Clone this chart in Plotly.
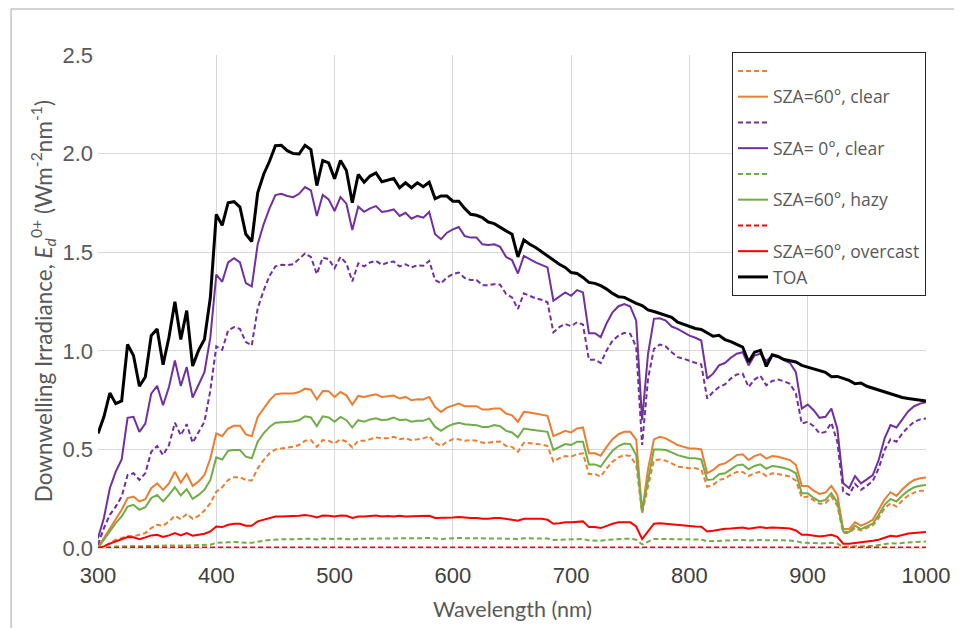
import plotly.graph_objects as go

wavelength = list(range(300, 1001, 5))

toa = [
    0.581, 0.665, 0.786, 0.732, 0.746, 1.032, 0.976, 0.820, 0.867, 1.077,
    1.111, 0.929, 1.069, 1.249, 1.057, 1.204, 0.923, 1.002, 1.059, 1.271,
    1.692, 1.636, 1.751, 1.756, 1.729, 1.591, 1.554, 1.801, 1.894, 1.961,
    2.040, 2.042, 2.015, 2.000, 1.998, 2.042, 2.020, 1.838, 1.965, 1.953,
    1.872, 1.965, 1.914, 1.751, 1.894, 1.855, 1.886, 1.902, 1.857, 1.865,
    1.874, 1.827, 1.852, 1.827, 1.852, 1.832, 1.855, 1.771, 1.785, 1.785,
    1.759, 1.759, 1.722, 1.692, 1.687, 1.675, 1.653, 1.645, 1.625, 1.608,
    1.591, 1.476, 1.562, 1.540, 1.524, 1.502, 1.481, 1.460, 1.439, 1.423,
    1.397, 1.392, 1.372, 1.347, 1.342, 1.330, 1.313, 1.291, 1.274, 1.271,
    1.254, 1.241, 1.229, 1.207, 1.199, 1.190, 1.182, 1.170, 1.145, 1.135,
    1.123, 1.113, 1.108, 1.093, 1.074, 1.079, 1.057, 1.047, 1.032, 1.019,
    0.943, 0.993, 1.002, 0.921, 0.980, 0.971, 0.956, 0.948, 0.943, 0.926,
    0.918, 0.907, 0.901, 0.891, 0.869, 0.870, 0.860, 0.850, 0.833, 0.837,
    0.820, 0.810, 0.800, 0.790, 0.779, 0.769, 0.763, 0.758, 0.753, 0.749, 0.746,
]

sza0_clear = [
    0.050, 0.152, 0.303, 0.387, 0.449, 0.660, 0.665, 0.589, 0.631, 0.783,
    0.822, 0.724, 0.816, 0.951, 0.822, 0.918, 0.763, 0.828, 0.892, 1.069,
    1.386, 1.350, 1.448, 1.470, 1.448, 1.343, 1.327, 1.540, 1.641, 1.722,
    1.790, 1.796, 1.785, 1.779, 1.796, 1.830, 1.813, 1.684, 1.790, 1.768,
    1.709, 1.779, 1.746, 1.613, 1.731, 1.705, 1.722, 1.734, 1.704, 1.709,
    1.717, 1.684, 1.700, 1.670, 1.684, 1.675, 1.704, 1.591, 1.566, 1.599,
    1.616, 1.628, 1.582, 1.574, 1.574, 1.540, 1.537, 1.540, 1.527, 1.476,
    1.460, 1.392, 1.481, 1.465, 1.448, 1.436, 1.423, 1.254, 1.274, 1.296,
    1.279, 1.308, 1.296, 1.089, 1.089, 1.069, 1.140, 1.195, 1.226, 1.237,
    1.224, 1.153, 0.648, 0.985, 1.162, 1.165, 1.153, 1.123, 1.111, 1.094,
    1.077, 1.066, 1.052, 0.859, 0.884, 0.926, 0.938, 0.965, 0.985, 0.993,
    0.926, 0.976, 0.985, 0.948, 0.976, 0.968, 0.955, 0.938, 0.892, 0.707,
    0.727, 0.699, 0.660, 0.665, 0.707, 0.606, 0.328, 0.303, 0.365, 0.328,
    0.348, 0.370, 0.446, 0.556, 0.623, 0.611, 0.652, 0.694, 0.719, 0.732, 0.739,
]

sza0_clear_dash = [
    0.017, 0.101, 0.168, 0.210, 0.261, 0.370, 0.379, 0.345, 0.379, 0.488,
    0.517, 0.471, 0.522, 0.635, 0.572, 0.628, 0.534, 0.589, 0.640, 0.800,
    1.022, 1.005, 1.103, 1.120, 1.111, 1.044, 1.027, 1.215, 1.305, 1.380,
    1.428, 1.436, 1.434, 1.439, 1.465, 1.493, 1.476, 1.389, 1.473, 1.465,
    1.419, 1.476, 1.443, 1.352, 1.443, 1.428, 1.448, 1.456, 1.436, 1.448,
    1.453, 1.428, 1.439, 1.423, 1.434, 1.431, 1.456, 1.359, 1.342, 1.372,
    1.389, 1.397, 1.369, 1.359, 1.359, 1.333, 1.333, 1.338, 1.335, 1.288,
    1.271, 1.212, 1.291, 1.279, 1.266, 1.259, 1.246, 1.094, 1.120, 1.136,
    1.125, 1.145, 1.133, 0.955, 0.955, 0.938, 1.002, 1.052, 1.077, 1.091,
    1.086, 1.019, 0.522, 0.859, 1.010, 1.032, 1.022, 0.993, 0.968, 0.960,
    0.948, 0.939, 0.931, 0.758, 0.791, 0.816, 0.830, 0.859, 0.880, 0.884,
    0.816, 0.854, 0.874, 0.825, 0.847, 0.854, 0.845, 0.833, 0.783, 0.631,
    0.640, 0.618, 0.581, 0.589, 0.635, 0.539, 0.286, 0.269, 0.325, 0.295,
    0.316, 0.340, 0.404, 0.497, 0.551, 0.539, 0.581, 0.614, 0.640, 0.652, 0.657,
]

sza60_clear = [
    0.003, 0.051, 0.101, 0.152, 0.194, 0.253, 0.261, 0.236, 0.247, 0.303,
    0.328, 0.295, 0.328, 0.387, 0.332, 0.375, 0.315, 0.337, 0.370, 0.455,
    0.581, 0.567, 0.606, 0.620, 0.620, 0.576, 0.567, 0.665, 0.707, 0.749,
    0.779, 0.783, 0.783, 0.783, 0.791, 0.808, 0.803, 0.753, 0.796, 0.795,
    0.766, 0.791, 0.774, 0.727, 0.771, 0.766, 0.773, 0.779, 0.766, 0.769,
    0.773, 0.758, 0.766, 0.749, 0.754, 0.753, 0.766, 0.715, 0.690, 0.712,
    0.724, 0.732, 0.719, 0.719, 0.719, 0.702, 0.702, 0.707, 0.707, 0.682,
    0.673, 0.640, 0.690, 0.687, 0.682, 0.677, 0.670, 0.567, 0.581, 0.594,
    0.586, 0.606, 0.611, 0.480, 0.480, 0.468, 0.513, 0.552, 0.577, 0.589,
    0.589, 0.550, 0.185, 0.400, 0.551, 0.564, 0.556, 0.539, 0.522, 0.513,
    0.505, 0.505, 0.500, 0.379, 0.396, 0.421, 0.429, 0.449, 0.471, 0.475,
    0.446, 0.466, 0.476, 0.453, 0.466, 0.463, 0.456, 0.446, 0.421, 0.315,
    0.315, 0.291, 0.274, 0.281, 0.315, 0.269, 0.096, 0.096, 0.130, 0.113,
    0.126, 0.143, 0.194, 0.247, 0.283, 0.264, 0.298, 0.325, 0.345, 0.354, 0.357,
]

sza60_clear_dash = [
    0.000, 0.008, 0.025, 0.042, 0.051, 0.062, 0.059, 0.067, 0.076, 0.101,
    0.118, 0.113, 0.135, 0.163, 0.146, 0.173, 0.148, 0.163, 0.190, 0.227,
    0.286, 0.308, 0.345, 0.359, 0.359, 0.345, 0.342, 0.404, 0.446, 0.480,
    0.500, 0.505, 0.510, 0.513, 0.522, 0.544, 0.547, 0.513, 0.547, 0.544,
    0.530, 0.551, 0.539, 0.510, 0.544, 0.544, 0.551, 0.561, 0.556, 0.556,
    0.564, 0.551, 0.556, 0.547, 0.551, 0.556, 0.567, 0.534, 0.517, 0.539,
    0.551, 0.551, 0.544, 0.547, 0.544, 0.534, 0.534, 0.539, 0.540, 0.517,
    0.513, 0.488, 0.534, 0.530, 0.527, 0.525, 0.517, 0.438, 0.455, 0.466,
    0.463, 0.476, 0.480, 0.375, 0.375, 0.362, 0.404, 0.438, 0.460, 0.471,
    0.466, 0.421, 0.177, 0.320, 0.446, 0.449, 0.443, 0.429, 0.412, 0.409,
    0.404, 0.404, 0.399, 0.311, 0.320, 0.345, 0.352, 0.372, 0.386, 0.386,
    0.365, 0.379, 0.387, 0.365, 0.379, 0.375, 0.370, 0.362, 0.342, 0.256,
    0.261, 0.241, 0.224, 0.227, 0.261, 0.214, 0.076, 0.076, 0.101, 0.089,
    0.101, 0.114, 0.152, 0.202, 0.227, 0.210, 0.241, 0.266, 0.281, 0.290, 0.291,
]

sza60_hazy = [
    0.000, 0.042, 0.084, 0.126, 0.160, 0.210, 0.219, 0.194, 0.207, 0.253,
    0.269, 0.236, 0.269, 0.308, 0.266, 0.298, 0.249, 0.269, 0.295, 0.345,
    0.460, 0.449, 0.493, 0.497, 0.497, 0.463, 0.455, 0.539, 0.581, 0.614,
    0.635, 0.638, 0.640, 0.641, 0.648, 0.668, 0.662, 0.618, 0.668, 0.662,
    0.640, 0.665, 0.648, 0.611, 0.648, 0.640, 0.652, 0.658, 0.648, 0.652,
    0.662, 0.648, 0.652, 0.640, 0.645, 0.645, 0.657, 0.614, 0.594, 0.614,
    0.628, 0.635, 0.628, 0.626, 0.623, 0.614, 0.614, 0.623, 0.618, 0.594,
    0.586, 0.561, 0.606, 0.601, 0.598, 0.594, 0.589, 0.497, 0.510, 0.527,
    0.522, 0.539, 0.539, 0.424, 0.424, 0.412, 0.455, 0.493, 0.517, 0.530,
    0.527, 0.471, 0.185, 0.345, 0.500, 0.500, 0.497, 0.485, 0.471, 0.463,
    0.455, 0.455, 0.449, 0.345, 0.348, 0.374, 0.379, 0.399, 0.419, 0.423,
    0.399, 0.416, 0.424, 0.402, 0.416, 0.412, 0.406, 0.396, 0.379, 0.278,
    0.278, 0.254, 0.236, 0.244, 0.278, 0.231, 0.084, 0.081, 0.113, 0.096,
    0.109, 0.123, 0.168, 0.219, 0.249, 0.236, 0.266, 0.291, 0.308, 0.316, 0.320,
]

sza60_hazy_dash = [
    0.000, 0.003, 0.005, 0.007, 0.008, 0.010, 0.010, 0.009, 0.010, 0.011,
    0.012, 0.011, 0.012, 0.013, 0.012, 0.013, 0.012, 0.013, 0.014, 0.017,
    0.026, 0.026, 0.029, 0.030, 0.030, 0.027, 0.026, 0.033, 0.037, 0.040,
    0.043, 0.044, 0.044, 0.045, 0.046, 0.048, 0.047, 0.043, 0.048, 0.047,
    0.045, 0.048, 0.047, 0.043, 0.047, 0.047, 0.048, 0.049, 0.048, 0.049,
    0.050, 0.049, 0.050, 0.049, 0.050, 0.050, 0.051, 0.047, 0.045, 0.048,
    0.050, 0.051, 0.050, 0.050, 0.050, 0.049, 0.049, 0.050, 0.050, 0.048,
    0.047, 0.044, 0.049, 0.049, 0.049, 0.049, 0.048, 0.041, 0.043, 0.044,
    0.044, 0.045, 0.046, 0.038, 0.038, 0.037, 0.041, 0.044, 0.046, 0.047,
    0.047, 0.042, 0.018, 0.032, 0.046, 0.046, 0.046, 0.045, 0.044, 0.044,
    0.043, 0.043, 0.043, 0.034, 0.035, 0.037, 0.038, 0.039, 0.041, 0.041,
    0.038, 0.040, 0.041, 0.039, 0.040, 0.040, 0.039, 0.038, 0.035, 0.027,
    0.027, 0.025, 0.023, 0.024, 0.026, 0.022, 0.006, 0.006, 0.009, 0.008,
    0.009, 0.011, 0.015, 0.020, 0.024, 0.023, 0.026, 0.029, 0.031, 0.032, 0.033,
]

sza60_overcast = [
    0.000, 0.008, 0.022, 0.034, 0.042, 0.056, 0.054, 0.045, 0.054, 0.064,
    0.067, 0.056, 0.064, 0.076, 0.064, 0.076, 0.062, 0.067, 0.072, 0.084,
    0.109, 0.106, 0.118, 0.123, 0.123, 0.113, 0.113, 0.135, 0.143, 0.152,
    0.160, 0.160, 0.160, 0.160, 0.163, 0.167, 0.163, 0.155, 0.165, 0.163,
    0.160, 0.165, 0.163, 0.152, 0.160, 0.160, 0.162, 0.165, 0.160, 0.162,
    0.160, 0.163, 0.160, 0.160, 0.160, 0.160, 0.163, 0.152, 0.152, 0.155,
    0.155, 0.157, 0.153, 0.152, 0.152, 0.148, 0.148, 0.152, 0.152, 0.146,
    0.143, 0.138, 0.148, 0.148, 0.148, 0.148, 0.143, 0.123, 0.126, 0.130,
    0.130, 0.131, 0.135, 0.106, 0.106, 0.101, 0.113, 0.123, 0.130, 0.130,
    0.130, 0.109, 0.045, 0.084, 0.123, 0.126, 0.123, 0.118, 0.116, 0.113,
    0.109, 0.109, 0.108, 0.084, 0.088, 0.094, 0.098, 0.099, 0.101, 0.104,
    0.098, 0.103, 0.106, 0.101, 0.104, 0.103, 0.101, 0.099, 0.089, 0.067,
    0.067, 0.064, 0.059, 0.062, 0.067, 0.057, 0.022, 0.022, 0.025, 0.029,
    0.032, 0.037, 0.042, 0.054, 0.062, 0.059, 0.067, 0.074, 0.076, 0.079, 0.081,
]

sza60_overcast_dash = [
    0.000, 0.001, 0.001, 0.002, 0.002, 0.002, 0.002, 0.002, 0.002, 0.002,
    0.002, 0.002, 0.002, 0.002, 0.002, 0.002, 0.002, 0.002, 0.002, 0.002,
    0.003, 0.003, 0.003, 0.003, 0.003, 0.003, 0.003, 0.003, 0.003, 0.003,
    0.003, 0.003, 0.003, 0.003, 0.003, 0.003, 0.003, 0.003, 0.003, 0.003,
    0.003, 0.003, 0.003, 0.003, 0.003, 0.003, 0.003, 0.003, 0.003, 0.003,
    0.003, 0.003, 0.003, 0.003, 0.003, 0.003, 0.003, 0.003, 0.003, 0.003,
    0.003, 0.003, 0.003, 0.003, 0.003, 0.003, 0.003, 0.003, 0.003, 0.003,
    0.003, 0.003, 0.003, 0.003, 0.003, 0.003, 0.003, 0.003, 0.003, 0.003,
    0.003, 0.003, 0.003, 0.002, 0.002, 0.002, 0.003, 0.003, 0.003, 0.003,
    0.003, 0.002, 0.001, 0.002, 0.003, 0.003, 0.003, 0.003, 0.003, 0.003,
    0.003, 0.003, 0.003, 0.002, 0.002, 0.002, 0.002, 0.002, 0.002, 0.002,
    0.002, 0.002, 0.002, 0.002, 0.002, 0.002, 0.002, 0.002, 0.002, 0.002,
    0.002, 0.002, 0.002, 0.002, 0.002, 0.002, 0.001, 0.001, 0.001, 0.001,
    0.001, 0.001, 0.001, 0.002, 0.002, 0.002, 0.002, 0.002, 0.002, 0.002, 0.002,
]

ORANGE = "#ED7D31"
PURPLE = "#7030A0"
GREEN = "#70AD47"
RED = "#FF0000"
DASH = "5px,3px"

series = [
    ("", sza60_clear_dash, ORANGE, DASH, 2),
    ("SZA=60°, clear", sza60_clear, ORANGE, "solid", 2),
    ("", sza0_clear_dash, PURPLE, DASH, 2),
    ("SZA= 0°, clear", sza0_clear, PURPLE, "solid", 2),
    ("", sza60_hazy_dash, GREEN, DASH, 2),
    ("SZA=60°, hazy", sza60_hazy, GREEN, "solid", 2),
    ("", sza60_overcast_dash, RED, DASH, 2),
    ("SZA=60°, overcast", sza60_overcast, RED, "solid", 2),
    ("TOA", toa, "#000000", "solid", 3),
]

fig = go.Figure()
for name, vals, color, dash, width in series:
    fig.add_trace(go.Scatter(
        x=wavelength, y=vals, mode="lines", name=name,
        line=dict(color=color, width=width, dash=dash),
        hoverinfo="skip",
    ))

fig.update_layout(
    width=954, height=620,
    margin=dict(l=90, r=26, t=47, b=80),
    paper_bgcolor="white", plot_bgcolor="white",
    showlegend=True,
    legend=dict(
        x=1, y=1.006, xanchor="right", yanchor="top",
        bgcolor="white", bordercolor="#262626", borderwidth=1,
        font=dict(family="Open Sans", size=17.5, color="#595959"),
        traceorder="normal",
    ),
    xaxis=dict(
        range=[300, 1000], tick0=300, dtick=100,
        showgrid=True, gridcolor="#d9d9d9", gridwidth=1,
        zeroline=False, showline=False, ticks="",
        tickfont=dict(family="Liberation Sans", size=22, color="#404040"),
        ticklabelstandoff=12, ticklabeloverflow="allow",
    ),
    yaxis=dict(
        range=[0, 2.5], tick0=0, dtick=0.5, tickformat=".1f",
        showgrid=True, gridcolor="#d9d9d9", gridwidth=1,
        zeroline=True, zerolinecolor="#d9d9d9", zerolinewidth=1,
        showline=False, ticks="",
        tickfont=dict(family="Liberation Sans", size=22, color="#595959"),
        ticklabelstandoff=4,
    ),
    annotations=[
        dict(text="Wavelength (nm)", xref="paper", yref="paper",
             x=0.5, y=-0.1237, xanchor="center", yanchor="middle",
             showarrow=False,
             font=dict(family="Lato", size=21.5, color="#595959")),
        dict(text="Downwelling Irradiance, <i>E<sub>d</sub></i><sup>0+</sup> (Wm<sup>-2</sup>nm<sup>-1</sup>)",
             xref="paper", yref="paper", x=-0.0668, y=0.5,
             xanchor="center", yanchor="middle", textangle=-90,
             showarrow=False,
             font=dict(family="Lato", size=22.5, color="#595959")),
    ],
    shapes=[
        dict(type="rect", xref="paper", yref="paper",
             x0=-0.105, x1=1.06, y0=-0.2, y1=1.0933,
             line=dict(color="#a6a6a6", width=1), layer="below"),
    ],
)

fig.write_html("out.html")
